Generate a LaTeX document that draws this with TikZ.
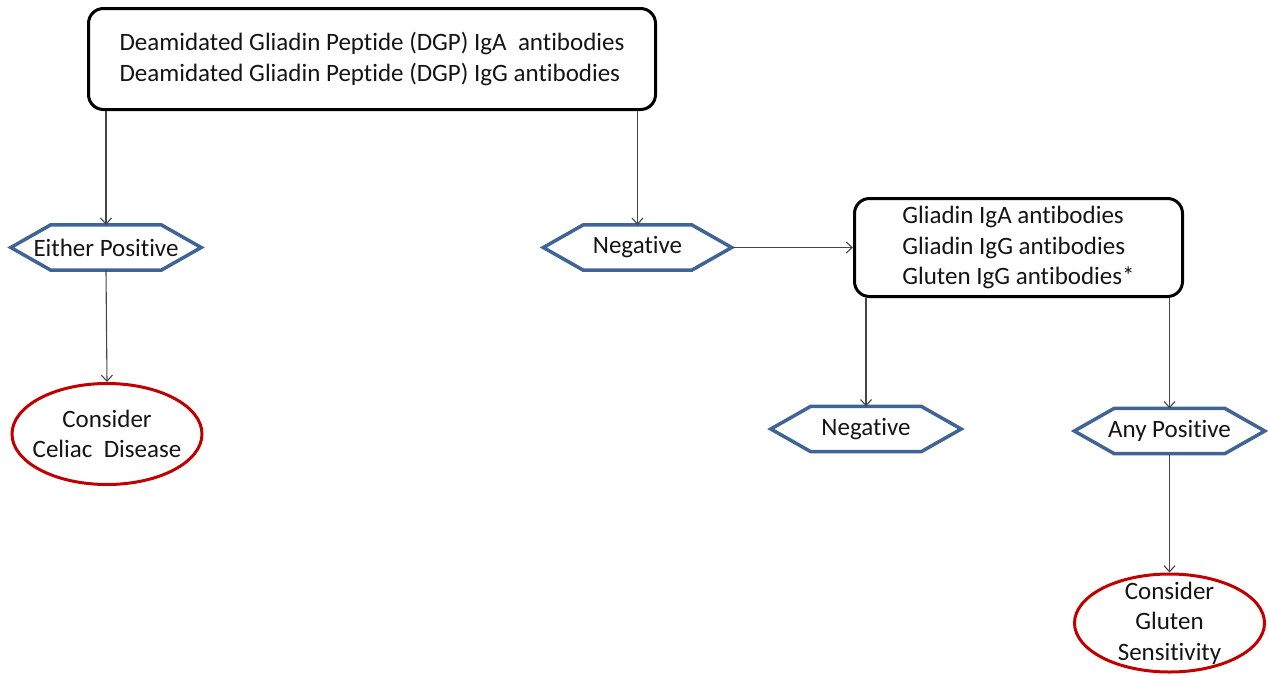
\documentclass[tikz,border=0pt]{standalone}
\usepackage{fontspec}
\setmainfont{Carlito}[Ligatures=CommonOff]
\usetikzlibrary{arrows.meta,shapes.geometric}
\definecolor{hexblue}{RGB}{65,100,150}
\definecolor{ovred}{RGB}{192,0,0}
\definecolor{conncol}{RGB}{70,70,70}
\definecolor{txt}{RGB}{20,20,20}
\tikzset{
  tbox/.style={draw=black, line width=3pt, rounded corners=15pt, inner sep=0pt, align=left, text=txt},
  hexnode/.style={draw=none, inner sep=0pt, minimum width=#1, minimum height=45pt, text=txt},
  hexline/.style={draw=hexblue, line width=3.5pt, line join=miter},
  oval/.style={ellipse, draw=ovred, line width=3pt, inner xsep=-30pt, inner ysep=-25pt, minimum width=190pt, minimum height=101pt, align=center, text=txt},
  conn/.style={draw=conncol, line width=1.1pt, -{Straight Barb[length=6pt,width=11pt]}}
}
\newcommand\hexdraw[1]{\draw[hexline] (#1.west) -- ([xshift=40pt]#1.north west) -- ([xshift=-40pt]#1.north east) -- (#1.east) -- ([xshift=-40pt]#1.south east) -- ([xshift=40pt]#1.south west) -- cycle;}
\begin{document}
\begin{tikzpicture}[x=1pt,y=-1pt]
\fontsize{25}{30.5}\selectfont
\useasboundingbox (0,0) rectangle (1268,675);
\node[tbox, minimum width=567pt, minimum height=101pt] (top) at (372,59)
  {Deamidated Gliadin Peptide (DGP) IgA\ \ antibodies\\Deamidated Gliadin Peptide (DGP) IgG antibodies};
\node[hexnode=190pt] (ep) at (106,247.5) {Either Positive};
\hexdraw{ep}
\node[hexnode=188pt] (neg1) at (637.5,247.5) {Negative};
\hexdraw{neg1}
\node[tbox, minimum width=328pt, minimum height=98pt] (box2) at (1018.5,247.5)
  {Gliadin IgA antibodies\\Gliadin IgG antibodies\\Gluten IgG antibodies*};
\node[hexnode=190pt] (neg2) at (866,429) {Negative};
\hexdraw{neg2}
\node[hexnode=190pt] (anypos) at (1169.5,431) {Any Positive};
\hexdraw{anypos}
\node[oval] (cd) at (107,434) {Consider\\Celiac\ \ Disease};
\node[oval, minimum height=98pt] (cg) at (1169.5,623) {Consider\\Gluten\\Sensitivity};
\draw[conn] (top.south -| ep.north) -- (ep.north);
\draw[conn] (top.south -| neg1.north) -- (neg1.north);
\draw[conn] (ep.south) -- (cd.north);
\draw[conn] (neg1.east) -- (box2.west);
\draw[conn] (box2.south -| neg2.north) -- (neg2.north);
\draw[conn] (box2.south -| anypos.north) -- (anypos.north);
\draw[conn] (anypos.south) -- (cg.north);
\end{tikzpicture}
\end{document}
